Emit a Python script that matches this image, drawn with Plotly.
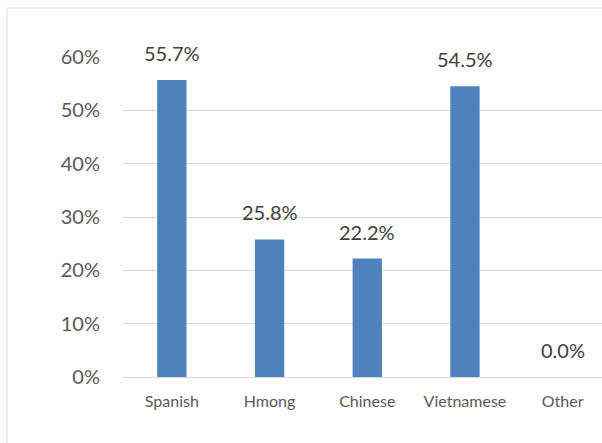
import plotly.graph_objects as go

categories = ["Spanish", "Hmong", "Chinese", "Vietnamese", "Other"]
values = [0.557, 0.258, 0.222, 0.545, 0.0]
tick_vals = [0, 0.1, 0.2, 0.3, 0.4, 0.5, 0.6]
tick_text = ["0%", "10%", "20%", "30%", "40%", "50%", "60%"]

FONT = "Lato"
L, T, B = 123, 57, 66
W, H = 602, 443
pw = W - L
ph = H - T - B

fig = go.Figure()
fig.add_trace(go.Bar(
    x=list(range(len(categories))), y=values,
    marker=dict(color="#4F81BD", line=dict(width=0)),
    width=0.3,
))

for i, v in enumerate(values):
    fig.add_annotation(
        x=i, y=v, xref="x", yref="y",
        text=f"{v*100:.1f}%", showarrow=False,
        yanchor="middle", yshift=27,
        font=dict(family=FONT, size=20, color="#404040"),
    )

# chart border (extends beyond the cropped image)
fig.add_shape(
    type="rect", xref="paper", yref="paper",
    x0=(7 - L) / pw, x1=1.2, y0=-0.6, y1=(H - B - 8) / ph,
    line=dict(color="#D9D9D9", width=1), fillcolor="rgba(0,0,0,0)",
    layer="below",
)

fig.update_layout(
    width=W, height=H,
    margin=dict(l=L, r=0, t=T, b=B, pad=0),
    plot_bgcolor="white", paper_bgcolor="white",
    showlegend=False,
    bargap=0.7,
    xaxis=dict(
        tickmode="array",
        tickvals=list(range(len(categories))),
        ticktext=categories,
        range=[-0.5, -0.5 + pw / 97.7],
        showgrid=False, zeroline=False, showline=False,
        ticks="", ticklabelstandoff=13,
        tickfont=dict(family=FONT, size=16, color="#595959"),
    ),
    yaxis=dict(
        range=[0, 0.6],
        tickmode="array", tickvals=tick_vals, ticktext=tick_text,
        showgrid=True, gridcolor="#D9D9D9", gridwidth=1,
        zeroline=True, zerolinecolor="#D9D9D9", zerolinewidth=1,
        showline=False, ticks="", ticklabelstandoff=22,
        tickfont=dict(family=FONT, size=20, color="#595959"),
    ),
)

fig.write_html("out.html")
